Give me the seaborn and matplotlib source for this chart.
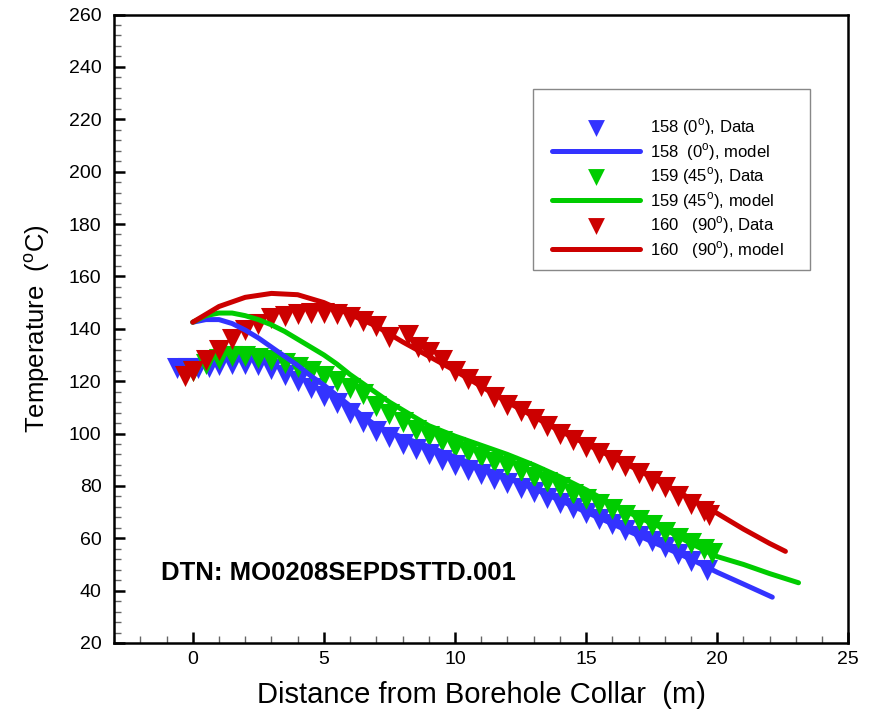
import numpy as np
import pandas as pd
import matplotlib
matplotlib.use('Agg')
import matplotlib.pyplot as plt
from matplotlib.ticker import MultipleLocator
from matplotlib.patches import Rectangle
import seaborn as sns

# distance (m) and temperature (C)
# borehole 158 (0 deg)
x158_data = [-0.6, -0.2, 0.2, 0.6, 1.0, 1.5, 2.0, 2.5, 3.0, 3.5, 4.0, 4.5, 5.0, 5.5, 6.0,
             6.5, 7.0, 7.5, 8.0, 8.5, 9.0, 9.5, 10.0, 10.5, 11.0, 11.5, 12.0, 12.5, 13.0,
             13.5, 14.0, 14.5, 15.0, 15.5, 16.0, 16.5, 17.0, 17.5, 18.0, 18.5, 19.0, 19.6]
t158_data = [125, 125, 125, 125.5, 126, 126.5, 126.5, 126, 124.5, 122.5, 120, 117.5, 114.5,
             111.5, 108, 104.5, 101, 98.5, 96, 94, 92, 90, 88, 86.2, 84.5, 82.8, 81, 79.2,
             77.5, 75.5, 73.5, 71.5, 69.5, 67.5, 65.5, 63.2, 61, 58.8, 56.5, 54, 51.5, 48]
x158_model = [0, 0.5, 1, 1.5, 2, 2.5, 3, 3.5, 4, 4.5, 5, 5.5, 6, 6.5, 7, 7.5, 8, 9, 10,
              11, 12, 13, 14, 15, 16, 17, 18, 19, 20, 21, 22.1]
t158_model = [142.5, 143.5, 143.5, 142, 139.5, 136.5, 133, 129.5, 126, 122, 118.5, 114.5,
              110.5, 106.5, 103, 100.5, 98.5, 95, 91, 87, 83, 79, 74.5, 70, 65.5, 61, 56.5,
              52, 47, 42.5, 37.5]

# borehole 159 (45 deg)
x159_data = [0.0, 0.5, 1.0, 1.5, 2.0, 2.5, 3.0, 3.5, 4.0, 4.5, 5.0, 5.5, 6.0, 6.5, 7.0,
             7.5, 8.0, 8.5, 9.0, 9.5, 10.0, 10.5, 11.0, 11.5, 12.0, 12.5, 13.0, 13.5,
             14.0, 14.5, 15.0, 15.5, 16.0, 16.5, 17.0, 17.5, 18.0, 18.5, 19.0, 19.5, 19.8]
t159_data = [124, 126.5, 128.5, 129.5, 129.5, 129, 128, 127, 125.5, 124, 122, 120, 117.5,
             115, 110.5, 107.5, 104.5, 101.5, 99, 97, 95, 93, 91, 89, 87.5, 85.5, 83.5,
             81.5, 79.5, 77, 75, 73, 71, 69, 67, 65, 62.5, 60, 58, 56, 54.5]
x159_model = [0, 0.5, 1, 1.5, 2, 2.5, 3, 3.5, 4, 4.5, 5, 5.5, 6, 6.5, 7, 7.5, 8, 8.5, 9,
              10, 11, 12, 13, 14, 15, 16, 17, 18, 19, 20, 21, 22, 23.1]
t159_model = [142.5, 145, 146, 146, 145, 143.5, 141.5, 139, 136, 133, 130, 126.5, 122.5,
              119, 115.5, 112, 109, 106, 103, 99, 95.5, 92, 88, 83.5, 78.5, 73, 68, 63.5,
              58, 53, 50, 46.5, 43]

# borehole 160 (90 deg)
x160_data = [-0.3, 0.0, 0.5, 1.0, 1.5, 2.0, 2.5, 3.0, 3.5, 4.0, 4.5, 5.0, 5.5, 6.0, 6.5,
             7.0, 7.5, 8.2, 8.6, 9.0, 9.5, 10.0, 10.5, 11.0, 11.5, 12.0, 12.5, 13.0, 13.5,
             14.0, 14.5, 15.0, 15.5, 16.0, 16.5, 17.0, 17.5, 18.0, 18.5, 19.0, 19.5, 19.7]
t160_data = [122, 124, 128, 132, 136, 139.5, 142, 144, 145, 145.5, 146, 146, 145.5, 144.5,
             143, 141, 137, 137.5, 133, 131, 128, 124, 121, 118, 114, 111, 108.5, 105.5,
             103, 100, 97.5, 95, 92.5, 90, 87.5, 85, 82, 79.5, 76, 73, 70.5, 69]
x160_model = [0, 1, 2, 3, 4, 5, 6, 7, 8, 9, 10, 11, 12, 13, 14, 15, 16, 17, 18, 19, 20,
              21, 22, 22.6]
t160_model = [142.5, 148.5, 152, 153.5, 153, 150, 145.5, 141, 135, 129.5, 124, 118, 112,
              106.5, 101, 96, 91, 86, 80.5, 75, 69.5, 63.5, 58, 55]

series = [
    ('158 (0$^{\\rm o}$), Data', '158  (0$^{\\rm o}$), model', '#3333ff',
     x158_data, t158_data, x158_model, t158_model),
    ('159 (45$^{\\rm o}$), Data', '159 (45$^{\\rm o}$), model', '#00cc00',
     x159_data, t159_data, x159_model, t159_model),
    ('160   (90$^{\\rm o}$), Data', '160   (90$^{\\rm o}$), model', '#cc0000',
     x160_data, t160_data, x160_model, t160_model),
]

sns.set_style('white')
plt.rcParams['font.family'] = ['Liberation Sans', 'DejaVu Sans']
plt.rcParams['mathtext.fontset'] = 'custom'
plt.rcParams['mathtext.rm'] = 'Liberation Sans'
plt.rcParams['text.color'] = 'black'
plt.rcParams['axes.labelcolor'] = 'black'
plt.rcParams['xtick.color'] = 'black'
plt.rcParams['ytick.color'] = 'black'

fig = plt.figure(figsize=(8.71, 7.15), dpi=100)
ax = fig.add_axes([0.131, 0.1007, 0.843, 0.879])

for data_lab, model_lab, col, xd, td, xm, tm in series:
    sns.scatterplot(x=xd, y=td, marker='v', s=230, color=col, edgecolor=col,
                    linewidth=0, label=data_lab, ax=ax, zorder=3)
    sns.lineplot(x=xm, y=tm, color=col, linewidth=3.6, label=model_lab, ax=ax,
                 zorder=4)

ax.set_xlim(-3, 25)
ax.set_ylim(20, 260)
ax.xaxis.set_major_locator(MultipleLocator(5))
ax.xaxis.set_minor_locator(MultipleLocator(1))
ax.yaxis.set_major_locator(MultipleLocator(20))
ax.yaxis.set_minor_locator(MultipleLocator(4))
ax.tick_params(which='both', bottom=True, left=True, top=False, right=False)
ax.tick_params(which='major', direction='in', length=8, width=1.8, labelsize=14,
               color='black')
ax.tick_params(axis='y', which='major', pad=9)
ax.tick_params(axis='x', which='major', pad=6)
ax.tick_params(which='minor', direction='in', length=5, width=1.0, color='#666666')
for sp in ax.spines.values():
    sp.set_linewidth(1.8)
    sp.set_color('black')

ax.set_xlabel('Distance from Borehole Collar  (m)', fontsize=21, labelpad=9)
ax.set_ylabel('Temperature  ($^{\\rm o}$C)', fontsize=18.5, labelpad=12)

ax.text(-1.22, 46.7, 'DTN: MO0208SEPDSTTD.001', fontsize=18.5, fontweight='bold',
        ha='left', va='center')

# legend box drawn separately so the padding can be uneven like the reference
ax.add_patch(Rectangle((0.571, 0.593), 0.377, 0.289, transform=ax.transAxes,
                       facecolor='white', edgecolor='#888888', linewidth=1.0,
                       zorder=5))
leg = ax.legend(loc='upper left', bbox_to_anchor=(0.596, 0.838), fontsize=12,
                frameon=False, handlelength=5.3, handletextpad=0.6,
                labelspacing=0.17, borderpad=0, borderaxespad=0, markerscale=0.8)
leg.set_zorder(6)

fig.savefig('out.png', dpi=100)
